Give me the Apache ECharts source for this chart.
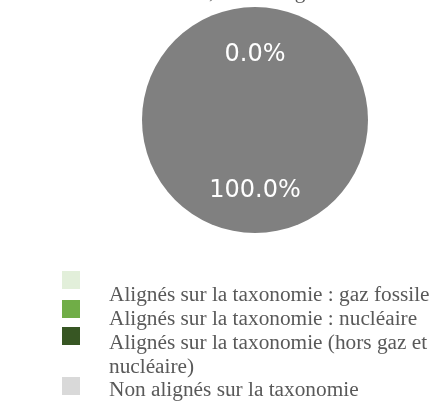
<!DOCTYPE html>
<html>
<head>
<meta charset="utf-8">
<script src="https://cdn.jsdelivr.net/npm/echarts@6/dist/echarts.min.js"></script>
<style>
  html, body { margin: 0; padding: 0; background: #fff; }
  #chart { width: 434px; height: 403px; }
</style>
</head>
<body>
<div id="chart"></div>
<script>
  // categories and values (share of investments, %)
  let categories = [
    'Alignés sur la taxonomie : gaz fossile',
    'Alignés sur la taxonomie : nucléaire',
    'Alignés sur la taxonomie (hors gaz et nucléaire)',
    'Non alignés sur la taxonomie'
  ]
  let values = [0, 0, 0, 100]
  let sliceColors = ['#e2efda', '#70ad47', '#375623', '#808080']
  let legendColors = ['#e2efda', '#70ad47', '#375623', '#d9d9d9']

  let chart = echarts.init(document.getElementById('chart'))
  let total = values.reduce((a, b) => a + b, 0)

  // legend squares and legend texts sit apart in the original, so each gets its own legend
  let iconTops = [271, 300, 327, 377]
  let textTops = [283, 307, 331, 378]
  let legendText = {
    fontFamily: 'Liberation Serif',
    fontSize: 21.3,
    lineHeight: 24,
    color: '#595959'
  }
  let iconLegends = categories.map((name, i) => ({
    left: 62,
    top: iconTops[i],
    padding: 0,
    itemWidth: 18,
    itemHeight: 18,
    icon: 'rect',
    selectedMode: false,
    data: [{ name: name, itemStyle: { color: legendColors[i] } }],
    formatter: () => ''
  }))
  let textLegends = categories.map((name, i) => ({
    left: 104,
    top: textTops[i],
    padding: 0,
    itemWidth: 0,
    itemHeight: 24,
    icon: 'none',
    selectedMode: false,
    data: [name],
    formatter: n => n.replace(' et nucléaire', ' et\nnucléaire'),
    textStyle: legendText
  }))

  let option = {
    animation: false,
    title: {
      text: 'taxonomie, hors obligations souveraines',
      left: 119,
      top: -18,
      padding: 0,
      textStyle: {
        fontFamily: 'Liberation Serif',
        fontWeight: 'normal',
        fontSize: 21.3,
        color: '#595959'
      }
    },
    legend: iconLegends.concat(textLegends),
    series: [{
      type: 'pie',
      center: [255, 120],
      radius: 113,
      startAngle: 90,
      clockwise: true,
      avoidLabelOverlap: false,
      itemStyle: { borderWidth: 0 },
      label: {
        position: 'inside',
        color: '#fff',
        fontFamily: 'DejaVu Sans',
        fontSize: 24,
        formatter: p => (p.value / total * 100).toFixed(1) + '%'
      },
      labelLayout: p => ({ dy: p.dataIndex === 3 ? 11 : -6 }),
      emphasis: { disabled: true },
      data: categories.map((name, i) => ({
        name: name,
        value: values[i],
        itemStyle: { color: sliceColors[i] },
        // the three empty slices share one spot; show a single label there
        label: { show: i >= 2 }
      }))
    }]
  }
  chart.setOption(option)
</script>
</body>
</html>
